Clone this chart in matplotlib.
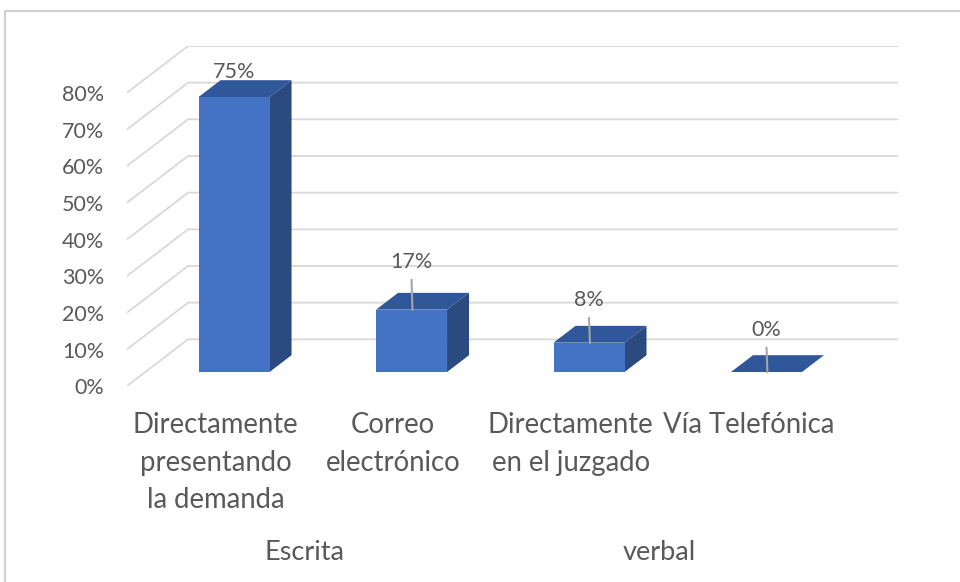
import matplotlib
matplotlib.use('Agg')
import matplotlib.pyplot as plt
from matplotlib.patches import Polygon, Rectangle

# ---------------------------------------------------------------------------
# Data
# ---------------------------------------------------------------------------
categories = ['Directamente\npresentando\nla demanda', 'Correo\nelectrónico',
              'Directamente\nen el juzgado', 'Vía Telefónica']
groups     = ['Escrita', 'verbal']
group_span = [(0, 1), (2, 3)]
values     = [75, 17, 8, 0]
ticks      = [0, 10, 20, 30, 40, 50, 60, 70, 80]

# label lift above the bar front-top (in % units), as placed in the original
label_lift = [6.7, 12.9, 11.5, 11.4]

# ---------------------------------------------------------------------------
# Pseudo-3D geometry
# ---------------------------------------------------------------------------
DX, DY   = 0.344, 12.73       # full depth offset (category units, % units)
D0, D1   = 0.30, 0.66         # bar depth extent
BAR_W    = 0.4
C_FRONT  = '#4472C4'
C_TOP    = '#30579A'
C_SIDE   = '#2A4A80'
C_GRID   = '#D9D9D9'
C_TEXT   = '#595959'

def proj(x, v, d):
    return (x + d * DX, v + d * DY)

plt.rcParams['font.family'] = ['Lato', 'DejaVu Sans']

fig = plt.figure(figsize=(9.6, 5.82), dpi=100)
W, H = 960, 582
ax = fig.add_axes([127 / W, (H - 386) / H, (898 - 127) / W, (386 - 46) / H])
n = len(categories)
ax.set_xlim(-0.5, n - 0.5 + DX)
ax.set_ylim(0, ticks[-1] + DY)
ax.axis('off')

# outer border of the chart area
fig.patches.append(Rectangle((5 / W, -0.1), 1.2, (H - 11) / H + 0.1,
                             transform=fig.transFigure, fill=False,
                             edgecolor='#D0D0D0', linewidth=1.5))

# gridlines: short diagonal on the left wall + horizontal on back wall
for t in ticks:
    p0 = proj(-0.5, t, 0)
    p1 = proj(-0.5, t, 1)
    p2 = proj(n - 0.5, t, 1)
    ax.plot([p0[0], p1[0], p2[0]], [p0[1], p1[1], p2[1]],
            color=C_GRID, lw=1.3, zorder=1, solid_joinstyle='miter')
    ax.text(-0.63, t - 0.6, '%d%%' % t, ha='right', va='center',
            fontsize=15.5, color=C_TEXT)

# bars
for i, v in enumerate(values):
    xl = i - BAR_W / 2
    xr = i + BAR_W / 2
    front = [proj(xl, 0, D0), proj(xr, 0, D0), proj(xr, v, D0), proj(xl, v, D0)]
    top   = [proj(xl, v, D0), proj(xr, v, D0), proj(xr, v, D1), proj(xl, v, D1)]
    side  = [proj(xr, 0, D0), proj(xr, 0, D1), proj(xr, v, D1), proj(xr, v, D0)]
    ax.add_patch(Polygon(side, closed=True, facecolor=C_SIDE, edgecolor='none', zorder=3))
    ax.add_patch(Polygon(front, closed=True, facecolor=C_FRONT, edgecolor='none', zorder=3))
    ax.add_patch(Polygon(top, closed=True, facecolor=C_TOP, edgecolor='none', zorder=3))

    fx, fy = proj(i, v, D0)
    ly = fy + label_lift[i]
    ax.text(fx, ly, '%d%%' % v, ha='center', va='center',
            fontsize=15.5, color=C_TEXT, zorder=5)
    if label_lift[i] > 10:
        ax.plot([fx, fx + 0.005], [ly - 4.8, fy], color='#A6A6A6', lw=1.5, zorder=4)

# category labels
for i, c in enumerate(categories):
    ax.text(i, -7.2, c, ha='center', va='top', fontsize=19.8,
            color=C_TEXT, linespacing=1.55, clip_on=False)

# group labels
for g, (a, b) in zip(groups, group_span):
    ax.text((a + b) / 2, -45.3, g, ha='center', va='center', fontsize=19.5,
            color=C_TEXT, clip_on=False)

fig.savefig('out.png', dpi=100)
